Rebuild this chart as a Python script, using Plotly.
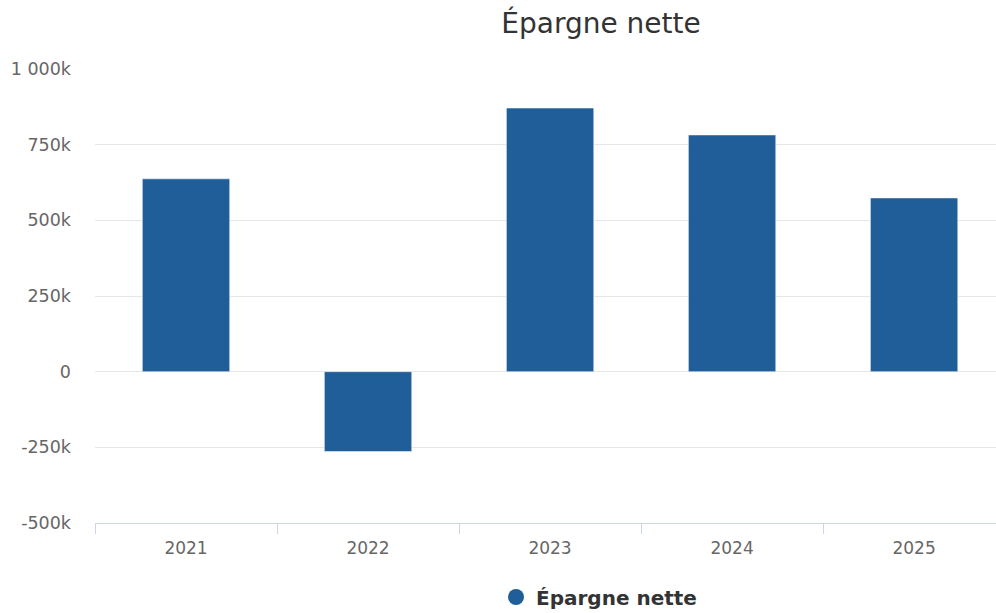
import plotly.graph_objects as go

years = ["2021", "2022", "2023", "2024", "2025"]
epargne_nette = [637000, -264000, 871000, 782000, 574000]
y_tick_vals = [-500000, -250000, 0, 250000, 500000, 750000, 1000000]
y_tick_text = ["-500k", "-250k", "0", "250k", "500k", "750k", "1 000k"]
series_name = "Épargne nette"
bar_color = "#1f5e99"

W, H = 996, 613

fig = go.Figure()
fig.add_trace(go.Bar(
    x=years, y=epargne_nette, name=series_name, showlegend=False,
    marker=dict(color=bar_color, line=dict(color="rgba(255,255,255,0.5)", width=1)),
    width=0.48,
))
fig.add_trace(go.Scatter(
    x=[None], y=[None], mode="markers", name=series_name,
    marker=dict(symbol="circle", size=18, color=bar_color),
))

font = "DejaVu Sans, sans-serif"
fig.update_layout(
    width=W, height=H,
    paper_bgcolor="white", plot_bgcolor="white",
    margin=dict(l=95, r=0, t=69, b=H - 523),
    font=dict(family=font, color="#666666", size=17),
    title=dict(text=series_name, x=601 / W, xanchor="center",
               y=1 - 23 / H, yanchor="middle",
               font=dict(size=28, color="#333333", family=font)),
    xaxis=dict(
        type="category", range=[-0.5, 4.45],
        showgrid=False, showline=True, linecolor="#ccd6eb", linewidth=1,
        ticks="outside", tickson="boundaries", ticklen=10, tickcolor="#ccd6eb", tickwidth=1,
        tickfont=dict(size=17, color="#666666"), ticklabelstandoff=10,
    ),
    yaxis=dict(
        range=[-500000, 1000000], tickvals=y_tick_vals, ticktext=y_tick_text,
        showgrid=True, gridcolor="#e6e6e6", gridwidth=1,
        zeroline=True, zerolinecolor="#e6e6e6", zerolinewidth=1,
        showline=False, ticks="", ticklabelstandoff=23,
        tickfont=dict(size=17.5, color="#666666"),
    ),
    legend=dict(orientation="h", xref="container", yref="container",
                x=599 / W, xanchor="center",
                y=1 - 597 / H, yanchor="middle",
                font=dict(size=20, color="#333333", family=font, weight="bold"),
                itemsizing="trace"),
)

fig.write_html(
    "out.html",
    config={"displayModeBar": False},
    post_script="document.body.style.margin='0';document.body.style.overflow='hidden';",
)
